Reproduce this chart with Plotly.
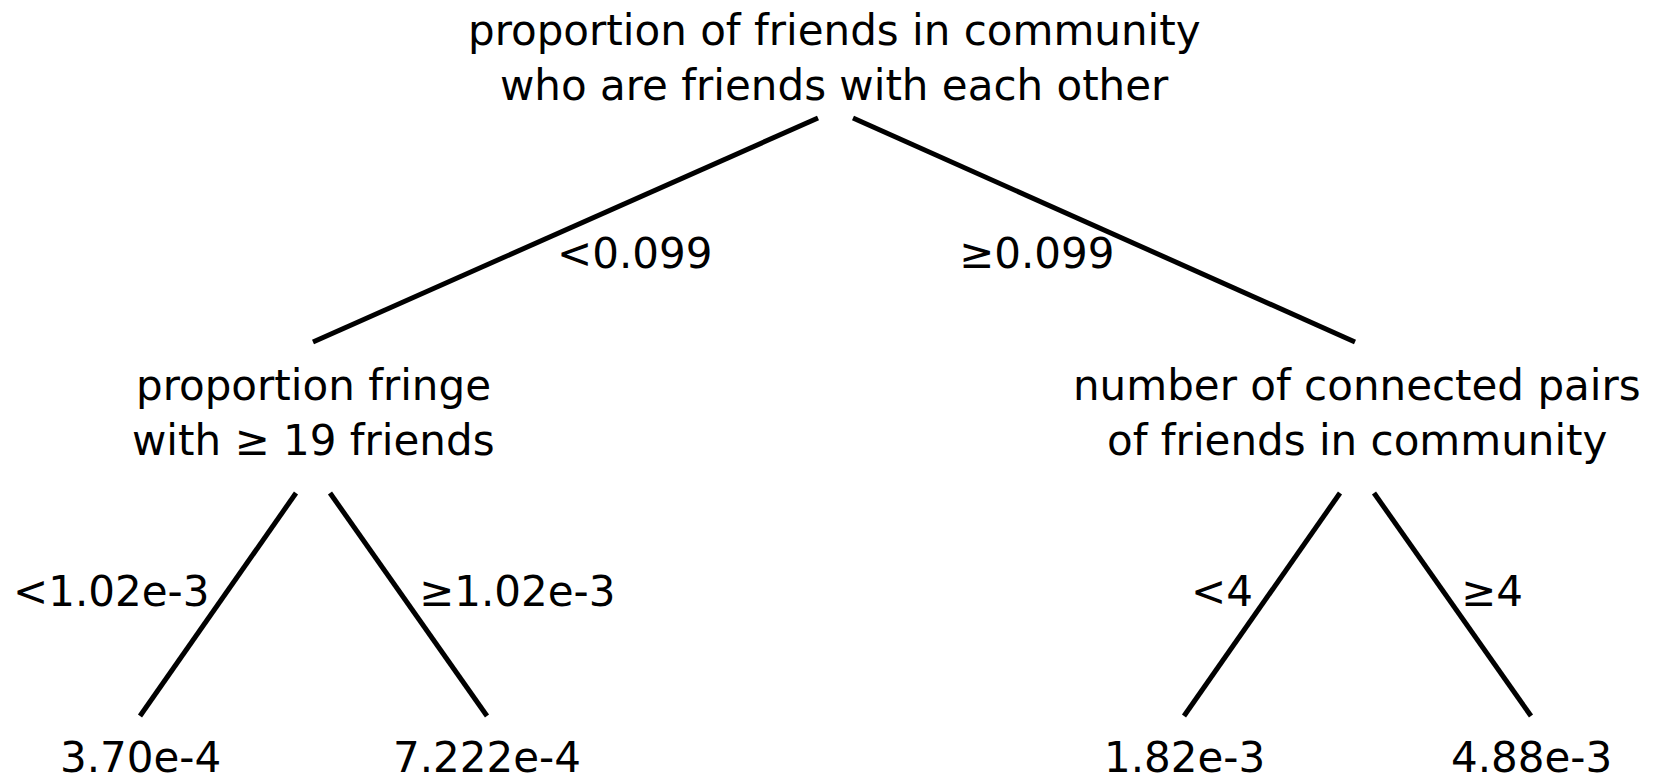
import plotly.graph_objects as go

# Tree content
root_label = ["proportion of friends in community", "who are friends with each other"]
split_labels = [
    ["proportion fringe", "with \u2265 19 friends"],
    ["number of connected pairs", "of friends in community"],
]
root_edges = ["<0.099", "\u22650.099"]
child_edges = [["<1.02e-3", "\u22651.02e-3"], ["<4", "\u22654"]]
leaf_values = [["3.70e-4", "7.222e-4"], ["1.82e-3", "4.88e-3"]]

# Layout of the tree in pixel space (y grows downward)
ROOT_X, ROOT_Y = 834, 30
SPLIT_X = [313, 1357]
SPLIT_Y = 385
LEAF_DX = 173
LEAF_Y = 757
LINE_GAP = 55
FONT = dict(family="DejaVu Sans, Verdana, sans-serif", size=42, color="#000")
LINE = dict(color="#000", width=5)
PAGE_PAD = 8  # default body margin of the html page

fig = go.Figure()

def edge(x0, y0, x1, y1):
    fig.add_trace(go.Scatter(x=[x0, x1], y=[y0, y1], mode="lines", line=LINE,
                             hoverinfo="skip", showlegend=False))

def label(x, y, txt):
    fig.add_annotation(x=x, y=y, text=txt, showarrow=False, font=FONT,
                       xanchor="center", yanchor="middle")

# root node
label(ROOT_X, ROOT_Y, root_label[0])
label(ROOT_X, ROOT_Y + LINE_GAP, root_label[1])

# root -> splits
edge(ROOT_X - 16, 118, SPLIT_X[0], 342)
edge(ROOT_X + 19, 118, SPLIT_X[1] - 2, 342)
label(634, 253, root_edges[0])
label(1036, 253, root_edges[1])

edge_lbl_x = [[111, 517], [1222, 1492]]
for i, sx in enumerate(SPLIT_X):
    label(sx, SPLIT_Y, split_labels[i][0])
    label(sx, SPLIT_Y + LINE_GAP, split_labels[i][1])
    lx = sx - LEAF_DX
    rx = sx + LEAF_DX + 1
    edge(sx - 17, 493, lx, 716)
    edge(sx + 17, 493, rx, 716)
    label(edge_lbl_x[i][0], 591, child_edges[i][0])
    label(edge_lbl_x[i][1], 591, child_edges[i][1])
    label(lx, LEAF_Y, leaf_values[i][0])
    label(rx, LEAF_Y, leaf_values[i][1])

fig.update_xaxes(range=[PAGE_PAD, 1655 + PAGE_PAD], visible=False, fixedrange=True)
fig.update_yaxes(range=[776 + PAGE_PAD, PAGE_PAD], visible=False, fixedrange=True)
fig.update_layout(
    width=1655, height=776,
    margin=dict(t=0, b=0, l=0, r=0),
    plot_bgcolor="#ffffff", paper_bgcolor="#ffffff",
    showlegend=False,
)
fig.write_html("out.html")
